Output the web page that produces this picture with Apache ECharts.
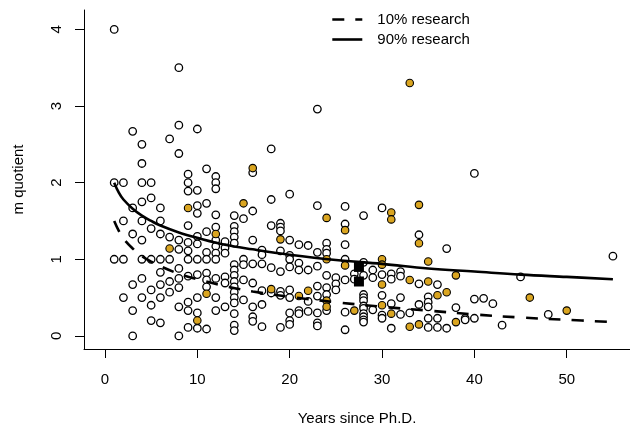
<!DOCTYPE html>
<html style="height: 100%">
<head>
	<meta charset="utf-8">
</head>
<body style="height: 100%; margin: 0; background: #fff">
<div id="container" style="width: 630px; height: 431px"></div>
<script type="text/javascript" src="https://cdn.jsdelivr.net/npm/echarts@6.0.0/dist/echarts.min.js"></script>
<script type="text/javascript">
    var dom = document.getElementById("container");
    var myChart = echarts.init(dom);

    // tick positions
    var xTicks = [0, 10, 20, 30, 40, 50];
    var yTicks = [0, 1, 2, 3, 4];

    // [years since PhD, m quotient], open circles
    var openPoints = [
        [1, 4.0], [1, 2.0], [1, 1.0],
        [2, 2.0], [2, 1.5], [2, 1.0], [2, 0.5],
        [3, 2.67], [3, 1.67], [3, 1.33], [3, 0.67], [3, 0.33], [3, 0.0],
        [4, 2.5], [4, 2.25], [4, 2.0], [4, 1.75], [4, 1.5], [4, 1.25], [4, 1.0], [4, 0.75], [4, 0.5],
        [5, 2.0], [5, 1.8], [5, 1.4], [5, 1.0], [5, 0.6], [5, 0.4], [5, 0.2],
        [6, 1.67], [6, 1.5], [6, 1.33], [6, 1.0], [6, 0.83], [6, 0.67], [6, 0.5], [6, 0.17],
        [7, 2.57], [7, 1.29], [7, 1.0], [7, 0.71], [7, 0.57],
        [8, 3.5], [8, 2.75], [8, 2.38], [8, 1.25], [8, 1.13], [8, 0.88], [8, 0.75], [8, 0.63], [8, 0.38], [8, 0.0],
        [9, 2.11], [9, 2.0], [9, 1.89], [9, 1.44], [9, 1.22], [9, 1.11], [9, 1.0], [9, 0.78], [9, 0.44], [9, 0.33], [9, 0.11],
        [10, 2.7], [10, 1.9], [10, 1.7], [10, 1.6], [10, 1.3], [10, 1.2], [10, 1.0], [10, 0.8], [10, 0.5], [10, 0.3], [10, 0.1],
        [11, 2.18], [11, 1.73], [11, 1.36], [11, 1.09], [11, 1.0], [11, 0.82], [11, 0.73], [11, 0.64], [11, 0.09],
        [12, 2.08], [12, 2.0], [12, 1.92], [12, 1.58], [12, 1.42], [12, 1.25], [12, 1.17], [12, 1.08], [12, 1.0], [12, 0.75], [12, 0.5], [12, 0.33],
        [13, 1.23], [13, 1.15], [13, 1.08], [13, 0.77], [13, 0.69], [13, 0.38],
        [14, 1.57], [14, 1.43], [14, 1.36], [14, 1.29], [14, 1.21], [14, 0.93], [14, 0.86], [14, 0.79], [14, 0.71], [14, 0.64], [14, 0.57], [14, 0.5], [14, 0.43], [14, 0.29], [14, 0.14], [14, 0.07],
        [15, 1.53], [15, 1.0], [15, 0.93], [15, 0.73], [15, 0.47],
        [16, 2.13], [16, 1.63], [16, 1.25], [16, 0.94], [16, 0.69], [16, 0.38], [16, 0.25], [16, 0.19],
        [17, 1.12], [17, 1.06], [17, 0.94], [17, 0.59], [17, 0.41], [17, 0.12],
        [18, 2.44], [18, 1.78], [18, 1.44], [18, 0.89], [18, 0.56],
        [19, 1.47], [19, 1.42], [19, 1.37], [19, 1.11], [19, 0.84], [19, 0.58], [19, 0.53], [19, 0.11],
        [20, 1.85], [20, 1.25], [20, 1.05], [20, 1.0], [20, 0.9], [20, 0.6], [20, 0.5], [20, 0.3], [20, 0.2], [20, 0.15],
        [21, 1.19], [21, 0.95], [21, 0.86], [21, 0.33], [21, 0.29],
        [22, 1.18], [22, 0.86], [22, 0.45], [22, 0.32],
        [23, 2.96], [23, 1.7], [23, 1.09], [23, 0.91], [23, 0.65], [23, 0.52], [23, 0.3], [23, 0.17], [23, 0.13],
        [24, 1.21], [24, 1.13], [24, 1.08], [24, 0.79], [24, 0.63], [24, 0.54], [24, 0.33],
        [25, 0.76], [25, 0.68], [25, 0.6],
        [26, 1.69], [26, 1.46], [26, 1.19], [26, 1.0], [26, 0.73], [26, 0.31], [26, 0.08],
        [27, 0.81], [27, 0.74],
        [28, 1.57], [28, 0.96], [28, 0.79], [28, 0.54], [28, 0.5], [28, 0.46], [28, 0.39], [28, 0.36], [28, 0.29], [28, 0.25], [28, 0.21], [28, 0.18],
        [29, 0.86], [29, 0.76], [29, 0.34],
        [30, 1.67], [30, 0.8], [30, 0.53], [30, 0.27], [30, 0.23],
        [31, 0.81], [31, 0.74], [31, 0.42], [31, 0.1],
        [32, 0.84], [32, 0.78], [32, 0.5], [32, 0.28],
        [33, 0.3],
        [34, 1.32], [34, 0.68], [34, 0.41],
        [35, 0.51], [35, 0.44], [35, 0.38], [35, 0.23], [35, 0.11],
        [36, 0.67], [36, 0.23], [36, 0.11],
        [37, 1.14], [37, 0.1],
        [38, 0.37],
        [39, 0.23], [39, 0.21],
        [40, 2.12], [40, 0.48], [40, 0.23],
        [41, 0.49], [42, 0.42], [43, 0.14], [45, 0.77], [48, 0.28], [55, 1.04]
    ];

    // filled (gold) circles
    var goldPoints = [
        [7, 1.14], [9, 1.67], [10, 0.2], [11, 0.55], [12, 1.33], [15, 1.73], [16, 2.19],
        [18, 0.61], [19, 1.26], [21, 0.52], [22, 0.59], [24, 1.54], [24, 1.0], [24, 0.46],
        [24, 0.38], [26, 1.38], [26, 0.92], [27, 0.33], [30, 1.0], [30, 0.93], [30, 0.67],
        [30, 0.4], [31, 1.61], [31, 1.52], [31, 0.29], [33, 3.3], [33, 0.73], [33, 0.12],
        [34, 1.71], [34, 1.21], [34, 0.15], [35, 0.97], [35, 0.71], [36, 0.53], [37, 0.57],
        [38, 0.79], [38, 0.18], [46, 0.5], [50, 0.33]
    ];

    // black squares
    var meanPoints = [[27.5, 0.9], [27.5, 0.71]];

    // fitted curves
    var curveYears = [1, 1.5, 2, 3, 4, 5, 6, 8, 10, 13, 16, 20, 25, 30, 35, 40, 45, 50, 55];
    var curve10 = [1.5, 1.37, 1.27, 1.14, 1.04, 0.97, 0.91, 0.81, 0.74, 0.65, 0.58, 0.51, 0.44, 0.38, 0.33, 0.28, 0.24, 0.21, 0.18];
    var curve90 = [2.0, 1.87, 1.78, 1.66, 1.57, 1.5, 1.44, 1.35, 1.28, 1.19, 1.13, 1.06, 0.99, 0.94, 0.88, 0.84, 0.8, 0.77, 0.74];

    function pairs(xs, ys) {
        var out = [];
        for (var i = 0; i < xs.length; i++) {
            out.push([xs[i], ys[i]]);
        }
        return out;
    }

    var font = 'Liberation Sans, Arial, sans-serif';

    var option = {
        animation: false,
        backgroundColor: '#ffffff',
        grid: { left: 84, right: 0, top: 10, bottom: 80 },
        legend: {
            orient: 'vertical',
            left: 326,
            top: 7,
            itemWidth: 30,
            itemHeight: 14,
            itemGap: 5,
            selectedMode: false,
            itemStyle: { opacity: 0 },
            lineStyle: { width: 2.6 },
            textStyle: { fontFamily: font, fontSize: 15, color: '#000', padding: [0, 0, 0, 10] },
            data: ['10% research', '90% research']
        },
        xAxis: {
            type: 'value',
            min: -2.27,
            max: 56.85,
            name: 'Years since Ph.D.',
            nameLocation: 'middle',
            nameGap: 62,
            nameTextStyle: { fontFamily: font, fontSize: 15, color: '#000' },
            axisLine: { show: true, onZero: false, lineStyle: { color: '#000', width: 1 } },
            axisTick: { show: true, length: 9, customValues: xTicks, lineStyle: { color: '#000', width: 1 } },
            axisLabel: { customValues: xTicks, margin: 23, fontFamily: font, fontSize: 15, color: '#000' },
            splitLine: { show: false }
        },
        yAxis: {
            type: 'value',
            min: -0.171,
            max: 4.253,
            name: 'm quotient',
            nameLocation: 'middle',
            nameGap: 58,
            nameTextStyle: { fontFamily: font, fontSize: 15, color: '#000' },
            axisLine: { show: true, onZero: false, lineStyle: { color: '#000', width: 1 } },
            axisTick: { show: true, length: 9, customValues: yTicks, lineStyle: { color: '#000', width: 1 } },
            axisLabel: { customValues: yTicks, rotate: 90, margin: 20, fontFamily: font, fontSize: 15, color: '#000' },
            splitLine: { show: false }
        },
        series: [
            {
                type: 'scatter',
                data: openPoints,
                symbol: 'circle',
                symbolSize: 7.5,
                itemStyle: { color: '#ffffff', borderColor: '#000', borderWidth: 1.3, opacity: 1 },
                emphasis: { disabled: true },
                z: 2
            },
            {
                type: 'scatter',
                data: goldPoints,
                symbol: 'circle',
                symbolSize: 7.5,
                itemStyle: { color: '#DAA520', borderColor: '#000', borderWidth: 1.1, opacity: 1 },
                emphasis: { disabled: true },
                z: 3
            },
            {
                name: '10% research',
                type: 'line',
                data: pairs(curveYears, curve10),
                smooth: 0.4,
                symbol: 'none',
                showSymbol: false,
                lineStyle: { color: '#000', width: 2.6, type: [12, 11] },
                itemStyle: { color: '#000' },
                emphasis: { disabled: true },
                z: 4
            },
            {
                name: '90% research',
                type: 'line',
                data: pairs(curveYears, curve90),
                smooth: 0.4,
                symbol: 'none',
                showSymbol: false,
                lineStyle: { color: '#000', width: 2.6 },
                itemStyle: { color: '#000' },
                emphasis: { disabled: true },
                z: 4
            },
            {
                type: 'scatter',
                data: meanPoints,
                symbol: 'rect',
                symbolSize: 10,
                itemStyle: { color: '#000', opacity: 1 },
                emphasis: { disabled: true },
                z: 5
            }
        ]
    };

    myChart.setOption(option, true);
</script>
</body>
</html>
